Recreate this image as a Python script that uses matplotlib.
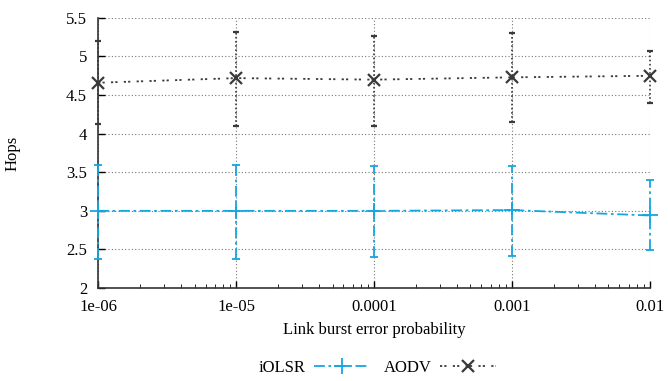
import matplotlib
matplotlib.use('Agg')
import matplotlib.pyplot as plt
from matplotlib.lines import Line2D

plt.rcParams['font.family'] = ['Liberation Serif', 'DejaVu Serif']

probs = [1e-6, 1e-5, 1e-4, 1e-3, 1e-2]
tick_labels = ['1e-06', '1e-05', '0.0001', '0.001', '0.01']

iolsr_mean = [3.0, 3.0, 3.0, 3.01, 2.94]
iolsr_low = [2.38, 2.38, 2.40, 2.42, 2.49]
iolsr_high = [3.60, 3.60, 3.58, 3.58, 3.40]

aodv_mean = [4.66, 4.72, 4.70, 4.73, 4.75]
aodv_low = [4.13, 4.10, 4.10, 4.15, 4.40]
aodv_high = [5.20, 5.32, 5.27, 5.31, 5.07]

blue = '#14a6e0'
gray = '#3a3a3a'

fig = plt.figure(figsize=(6.68, 3.81), dpi=100)
ax = fig.add_axes([0.147, 0.244, 0.826, 0.709])

def errs(mean, low, high):
    return [[m - l for m, l in zip(mean, low)], [h - m for m, h in zip(mean, high)]]

dashdot = (0, (6, 2, 1.5, 2))
dotted = (0, (1.2, 1.2, 1.2, 3.5))

# iOLSR series with error bars
e1 = ax.errorbar(probs, iolsr_mean, yerr=errs(iolsr_mean, iolsr_low, iolsr_high),
                 color=blue, linestyle=dashdot, lw=1.3, marker='+', ms=11, mew=1.3,
                 capsize=3, capthick=1.3, elinewidth=1.3, clip_on=False, zorder=3)
e1[2][0].set_linestyle(dashdot)

# AODV series with error bars
e2 = ax.errorbar(probs, aodv_mean, yerr=errs(aodv_mean, aodv_low, aodv_high),
                 color=gray, linestyle=dotted, lw=1.3, marker='x', ms=9, mew=1.6,
                 capsize=2.5, capthick=1.2, elinewidth=1.2, clip_on=False, zorder=3)
e2[2][0].set_linestyle((0, (1, 1.5)))

ax.set_xscale('log')
ax.set_xlim(1e-6, 1e-2)
ax.set_ylim(2, 5.5)
ax.set_xticks(probs)
ax.set_xticklabels(tick_labels)
ax.set_yticks([2, 2.5, 3, 3.5, 4, 4.5, 5, 5.5])
ax.set_yticklabels(['2', '2.5', '3', '3.5', '4', '4.5', '5', '5.5'])
ax.tick_params(direction='in', labelsize=12, length=5, width=1, pad=8)
ax.tick_params(axis='x', which='minor', direction='in', length=3)
ax.grid(True, which='major', color='#777777', linestyle=(0, (1, 2)), lw=0.8)
for s in ['top', 'right']:
    ax.spines[s].set_visible(False)
for s in ['left', 'bottom']:
    ax.spines[s].set_color('#333333')
    ax.spines[s].set_linewidth(1.2)

ax.set_xlabel('Link burst error probability', fontsize=12, labelpad=5)
ax.set_ylabel('Hops', fontsize=12, labelpad=33)

# Legend below plot, gnuplot style (text before sample)
h1 = Line2D([], [], color=blue, linestyle=dashdot, lw=1.3, marker='+', ms=11, mew=1.3)
h2 = Line2D([], [], color=gray, linestyle=dotted, lw=1.3, marker='x', ms=9, mew=1.6)
fig.legend([h1, h2], ['iOLSR', 'AODV'], loc='lower center', bbox_to_anchor=(0.565, -0.025),
           ncol=2, frameon=False, markerfirst=False, fontsize=12, handlelength=3.4,
           columnspacing=0.8, handletextpad=0.5)

fig.savefig('out.png', dpi=100)
